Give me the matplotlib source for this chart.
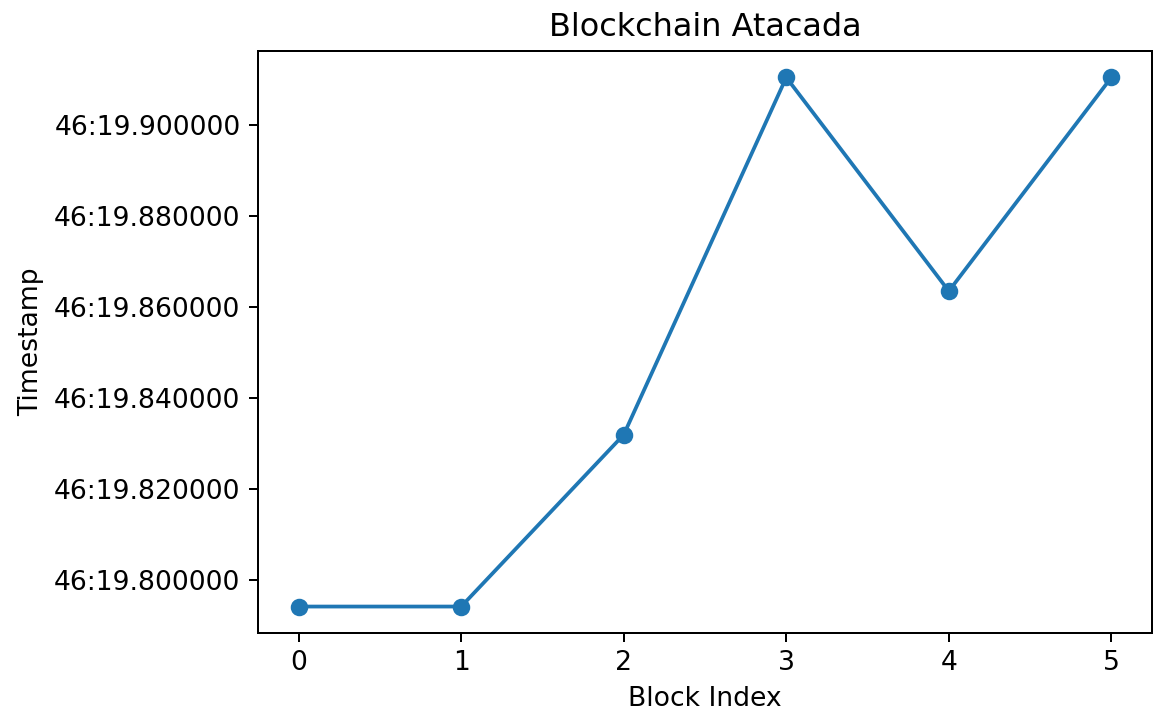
import matplotlib
matplotlib.use("Agg")
import matplotlib.pyplot as plt
import matplotlib.dates as mdates
import pandas as pd

block_index = [0, 1, 2, 3, 4, 5]
timestamps = [
    "46:19.794100",
    "46:19.794100",
    "46:19.831900",
    "46:19.910500",
    "46:19.863500",
    "46:19.910500",
]

times = pd.to_datetime(timestamps, format="%M:%S.%f")

plt.rcParams["font.size"] = 10.65

fig = plt.figure(figsize=(1153 / 180, 715 / 180), dpi=180)
ax = fig.add_axes([258 / 1153, 1 - 633 / 715, 894 / 1153, 582 / 715])

ax.plot(block_index, times, marker="o", color="#1f77b4")

ax.yaxis.set_major_locator(mdates.MicrosecondLocator(interval=20000))
ax.yaxis.set_major_formatter(mdates.DateFormatter("%M:%S.%f"))

ax.set_title("Blockchain Atacada")
ax.set_xlabel("Block Index")
ax.set_ylabel("Timestamp")

fig.savefig("out.png", dpi=180)
